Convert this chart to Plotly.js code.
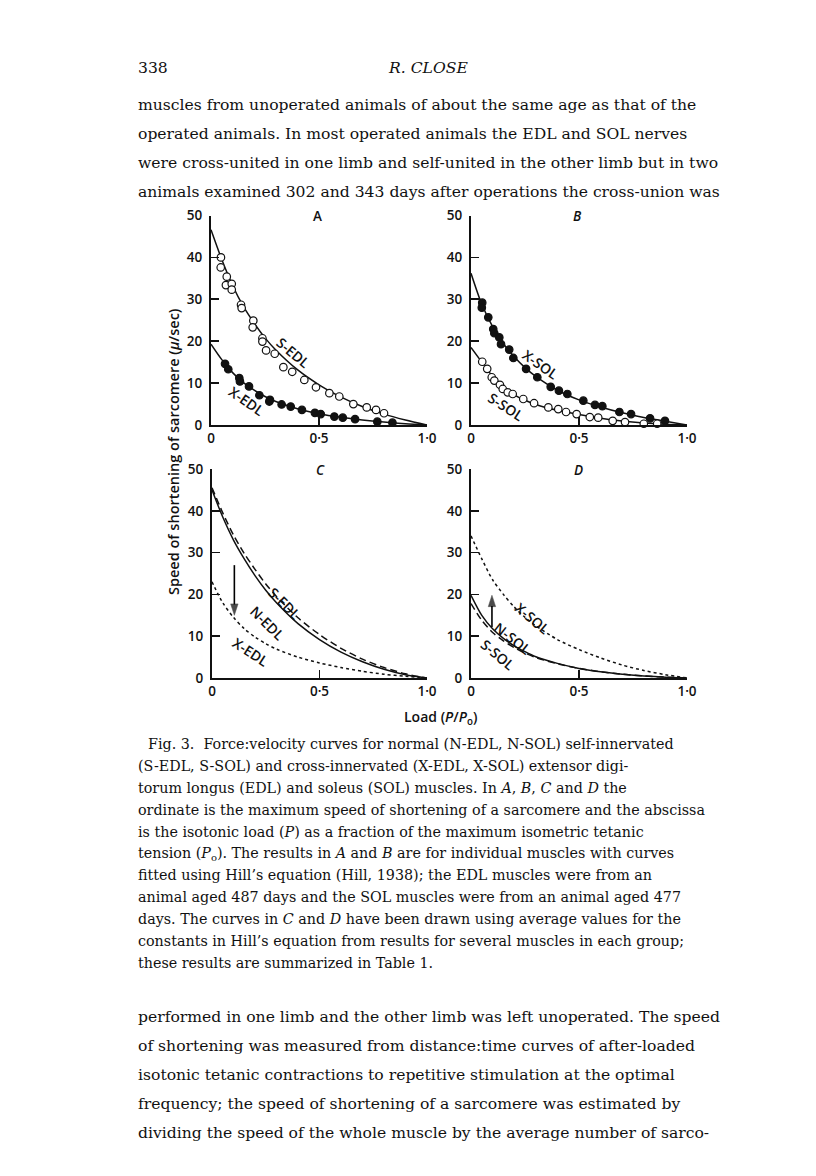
<!DOCTYPE html>
<html>
<head>
<meta charset="utf-8">
<script src="https://cdn.plot.ly/plotly-3.0.1.min.js"></script>
<style>
html,body{margin:0;padding:0;background:#fff;}
#chart{width:816px;height:1176px;}
</style>
</head>
<body>
<div id="chart"></div>
<script>
// ---------- DATA ----------
// load grid used when reading the drawn curves
const curveLoad = [0, 0.05, 0.1, 0.15, 0.2, 0.25, 0.3, 0.4, 0.5, 0.6, 0.7, 0.8, 0.9, 1.0];

// Panel A (EDL, individual muscles)
const A_SEDL_curve = [46.6, 39.5, 33.3, 28.3, 24.3, 20.8, 17.9, 13.2, 9.6, 6.7, 4.4, 2.6, 1.2, 0];
const A_XEDL_curve = [19.3, 15.6, 12.5, 10.1, 8.3, 6.8, 5.6, 3.9, 2.7, 1.85, 1.2, 0.7, 0.3, 0];
const A_SEDL_ptsX = [0.046, 0.045, 0.073, 0.069, 0.096, 0.096, 0.139, 0.142, 0.196, 0.193, 0.238, 0.238, 0.255, 0.295, 0.335, 0.376, 0.432, 0.486, 0.548, 0.594, 0.659, 0.721, 0.764, 0.801];
const A_SEDL_ptsY = [40.0, 37.6, 35.4, 33.4, 33.7, 32.3, 28.7, 27.9, 24.9, 23.3, 20.7, 19.9, 17.8, 17.0, 13.8, 12.7, 10.75, 9.0, 7.6, 6.8, 5.0, 4.2, 3.6, 2.8];
const A_XEDL_ptsX = [0.065, 0.080, 0.131, 0.134, 0.176, 0.224, 0.273, 0.270, 0.327, 0.369, 0.421, 0.481, 0.508, 0.571, 0.610, 0.667, 0.770, 0.840];
const A_XEDL_ptsY = [14.6, 13.3, 11.2, 10.4, 9.2, 7.1, 6.0, 5.6, 4.9, 4.4, 3.6, 2.9, 2.6, 2.0, 1.75, 1.4, 0.8, 0.55];

// Panel B (SOL, individual muscles)
const B_XSOL_curve = [36.2, 28.8, 23.5, 19.4, 16.3, 13.7, 11.6, 8.3, 6.0, 4.3, 2.9, 1.8, 0.9, 0];
const B_SSOL_curve = [18.5, 15.0, 11.6, 9.0, 7.2, 5.9, 4.9, 3.5, 2.5, 1.6, 0.95, 0.5, 0.2, 0];
const B_XSOL_ptsX = [0.052, 0.050, 0.080, 0.103, 0.108, 0.131, 0.139, 0.177, 0.196, 0.255, 0.307, 0.369, 0.407, 0.446, 0.520, 0.574, 0.608, 0.687, 0.741, 0.829, 0.898];
const B_XSOL_ptsY = [29.2, 28.0, 25.7, 22.9, 21.9, 20.9, 19.3, 18.0, 16.0, 13.4, 11.4, 9.1, 8.2, 7.4, 5.8, 4.8, 4.5, 3.1, 2.6, 1.6, 1.0];
const B_SSOL_ptsX = [0.052, 0.075, 0.096, 0.108, 0.134, 0.147, 0.170, 0.193, 0.242, 0.292, 0.358, 0.404, 0.440, 0.489, 0.550, 0.589, 0.656, 0.713, 0.800, 0.862];
const B_SSOL_ptsY = [15.1, 13.4, 11.4, 10.6, 9.6, 8.6, 7.8, 7.4, 6.2, 5.2, 4.2, 3.8, 3.1, 2.6, 1.9, 1.75, 1.0, 0.7, 0.3, 0.3];

// Panel C (EDL, average curves)
const C_NEDL_curve = [45.0, 38.5, 33.0, 28.5, 24.5, 21.0, 18.0, 13.0, 9.2, 6.2, 3.9, 2.1, 0.8, 0];
const C_SEDL_curve = [45.5, 39.5, 34.2, 29.8, 26.0, 22.5, 19.5, 14.4, 10.4, 7.1, 4.5, 2.5, 1.0, 0];
const C_XEDL_curve = [23.0, 18.0, 14.5, 11.8, 9.8, 8.2, 6.9, 5.0, 3.6, 2.5, 1.6, 0.9, 0.4, 0];

// Panel D (SOL, average curves)
const D_XSOL_curve = [34.0, 28.5, 23.5, 20.0, 17.0, 14.5, 12.5, 9.2, 6.8, 4.8, 3.1, 1.8, 0.8, 0];
const D_NSOL_curve = [19.8, 15.0, 11.8, 9.5, 7.7, 6.3, 5.1, 3.5, 2.3, 1.5, 0.9, 0.5, 0.2, 0];
const D_SSOL_curve = [17.8, 13.8, 10.9, 8.9, 7.3, 6.0, 4.9, 3.4, 2.3, 1.5, 0.9, 0.5, 0.2, 0];

// arrows: load, tail speed, head speed
const C_arrowX = [0.104, 0.104];
const C_arrowY = [27, 15];
const D_arrowX = [0.097, 0.097];
const D_arrowY = [12.2, 19.8];

// tick labels
const xTickVals = [0, 0.5, 1.0];
const xTickText = ['0', '0·5', '1·0'];
const yTickVals = [0, 10, 20, 30, 40, 50];
const yTickText = ['0', '10', '20', '30', '40', '50'];

// page text
const headerPage = '338';
const headerAuthor = 'R. CLOSE';
const bodyTop = [
  'muscles from unoperated animals of about the same age as that of the',
  'operated animals. In most operated animals the EDL and SOL nerves',
  'were cross-united in one limb and self-united in the other limb but in two',
  'animals examined 302 and 343 days after operations the cross-union was'
];
const captionLines = [
  'Fig. 3.  Force:velocity curves for normal (N-EDL, N-SOL) self-innervated',
  '(S-EDL, S-SOL) and cross-innervated (X-EDL, X-SOL) extensor digi-',
  'torum longus (EDL) and soleus (SOL) muscles. In <i>A</i>, <i>B</i>, <i>C</i> and <i>D</i> the',
  'ordinate is the maximum speed of shortening of a sarcomere and the abscissa',
  'is the isotonic load (<i>P</i>) as a fraction of the maximum isometric tetanic',
  'tension (<i>P</i><sub>o</sub>). The results in <i>A</i> and <i>B</i> are for individual muscles with curves',
  'fitted using Hill’s equation (Hill, 1938); the EDL muscles were from an',
  'animal aged 487 days and the SOL muscles were from an animal aged 477',
  'days. The curves in <i>C</i> and <i>D</i> have been drawn using average values for the',
  'constants in Hill’s equation from results for several muscles in each group;',
  'these results are summarized in Table 1.'
];
const bodyBottom = [
  'performed in one limb and the other limb was left unoperated. The speed',
  'of shortening was measured from distance:time curves of after-loaded',
  'isotonic tetanic contractions to repetitive stimulation at the optimal',
  'frequency; the speed of shortening of a sarcomere was estimated by',
  'dividing the speed of the whole muscle by the average number of sarco-'
];
const yTitle = 'Speed of shortening of sarcomere (<i>μ</i>/sec)';
const xTitle = 'Load (<i>P</i>/<i>P</i><sub>o</sub>)';

// ---------- BUILD ----------
const W = 816, H = 1176;
const px = v => v / W;
const py = v => 1 - v / H;
const sans = {family: '"Open Sans", Lato, sans-serif', size: 13.5, color: '#111', weight: 600};
const serif = 'DejaVu Serif, serif';

function curve(xa, ya, y, dash) {
  return {type: 'scatter', mode: 'lines', x: curveLoad, y: y, xaxis: xa, yaxis: ya,
    line: {color: '#111', width: 1.5, shape: 'spline', smoothing: 0.8, dash: dash || 'solid'},
    hoverinfo: 'skip', showlegend: false, cliponaxis: false};
}
function pts(xa, ya, x, y, open) {
  return {type: 'scatter', mode: 'markers', x: x, y: y, xaxis: xa, yaxis: ya,
    marker: {symbol: 'circle', size: 7.5, color: open ? '#fff' : '#111', line: {color: '#111', width: 1.2}},
    hoverinfo: 'skip', showlegend: false, cliponaxis: false};
}
function arrow(xa, ya, x, y) {
  return {type: 'scatter', mode: 'lines+markers', x: x, y: y, xaxis: xa, yaxis: ya,
    line: {color: '#000', width: 1.6},
    marker: {symbol: 'arrow', angleref: 'previous', size: [0, 12], color: '#000', line: {color: '#000', width: 0.5}},
    hoverinfo: 'skip', showlegend: false, cliponaxis: false};
}

const traces = [
  curve('x', 'y', A_SEDL_curve), curve('x', 'y', A_XEDL_curve),
  pts('x', 'y', A_SEDL_ptsX, A_SEDL_ptsY, true), pts('x', 'y', A_XEDL_ptsX, A_XEDL_ptsY, false),
  curve('x2', 'y2', B_XSOL_curve), curve('x2', 'y2', B_SSOL_curve),
  pts('x2', 'y2', B_XSOL_ptsX, B_XSOL_ptsY, false), pts('x2', 'y2', B_SSOL_ptsX, B_SSOL_ptsY, true),
  curve('x3', 'y3', C_NEDL_curve), curve('x3', 'y3', C_SEDL_curve, '7px,4px'), curve('x3', 'y3', C_XEDL_curve, '3px,3px'),
  curve('x4', 'y4', D_NSOL_curve), curve('x4', 'y4', D_SSOL_curve, '7px,4px'), curve('x4', 'y4', D_XSOL_curve, '3px,3px'),
  arrow('x3', 'y3', C_arrowX, C_arrowY), arrow('x4', 'y4', D_arrowX, D_arrowY)
];

function xax(d0, d1, anchor) {
  return {domain: [px(d0), px(d1)], range: [0, 1], anchor: anchor, showline: true, linecolor: '#111', linewidth: 2,
    ticks: 'inside', ticklen: 8, tickwidth: 1.6, tickcolor: '#111', tickvals: xTickVals, ticktext: xTickText,
    showgrid: false, zeroline: false, tickfont: sans, fixedrange: true};
}
function yax(top, bottom, anchor) {
  return {domain: [py(bottom), py(top)], range: [0, 50], anchor: anchor, showline: true, linecolor: '#111', linewidth: 2,
    ticks: 'inside', ticklen: 8, tickwidth: 1.6, tickcolor: '#111', tickvals: yTickVals, ticktext: yTickText,
    showgrid: false, zeroline: false, tickfont: sans, fixedrange: true, ticklabelstandoff: 4};
}

const ann = [];
function txt(x, y, text, opts) {
  ann.push(Object.assign({xref: 'paper', yref: 'paper', x: px(x), y: py(y), text: text, showarrow: false,
    xanchor: 'left', yanchor: 'middle', font: {family: serif, size: 15.6, color: '#111'}}, opts || {}));
}
// header
txt(136, 68, headerPage);
txt(428, 68, '<i>' + headerAuthor + '</i>', {xanchor: 'center'});
bodyTop.forEach((l, i) => txt(136, 105 + i * 29, l));
captionLines.forEach((l, i) => txt(i === 0 ? 146 : 136, 744 + i * 21.9, l, {font: {family: serif, size: 14.3, color: '#111'}}));
bodyBottom.forEach((l, i) => txt(136, 1017 + i * 29, l));

// axis titles
txt(173, 452, yTitle, {xanchor: 'center', textangle: -90, font: Object.assign({}, sans, {size: 14.5})});
txt(440, 717, xTitle, {xanchor: 'center', font: Object.assign({}, sans, {size: 14})});

// panel letters
txt(317, 216, 'A', {xanchor: 'center', font: sans});
txt(577, 216, '<i>B</i>', {xanchor: 'center', font: sans});
txt(320, 470, '<i>C</i>', {xanchor: 'center', font: sans});
txt(578, 470, '<i>D</i>', {xanchor: 'center', font: sans});

// curve labels
const lab = (x, y, t, a) => txt(x, y, t, {xanchor: 'center', textangle: a, font: Object.assign({}, sans, {size: 14})});
lab(293, 353, 'S-EDL', 40);
lab(246, 401, 'X-EDL', 35);
lab(541, 364, 'X-SOL', 35);
lab(506, 406, 'S-SOL', 33);
lab(285, 603, 'S-EDL', 45);
lab(268, 623, 'N-EDL', 45);
lab(250, 652, 'X-EDL', 33);
lab(533, 618, 'X-SOL', 40);
lab(513, 638, 'N-SOL', 38);
lab(498, 654, 'S-SOL', 40);

const layout = {
  width: W, height: H, margin: {l: 0, r: 0, t: 0, b: 0},
  paper_bgcolor: '#fff', plot_bgcolor: 'rgba(0,0,0,0)', showlegend: false,
  xaxis: xax(211, 427, 'y'), yaxis: yax(215.5, 425, 'x'),
  xaxis2: xax(471, 687, 'y2'), yaxis2: yax(215.5, 425, 'x2'),
  xaxis3: xax(212, 427, 'y3'), yaxis3: yax(469, 678, 'x3'),
  xaxis4: xax(471, 687, 'y4'), yaxis4: yax(469, 678, 'x4'),
  annotations: ann
};
Plotly.newPlot('chart', traces, layout, {staticPlot: true, displayModeBar: false});
</script>
</body>
</html>
